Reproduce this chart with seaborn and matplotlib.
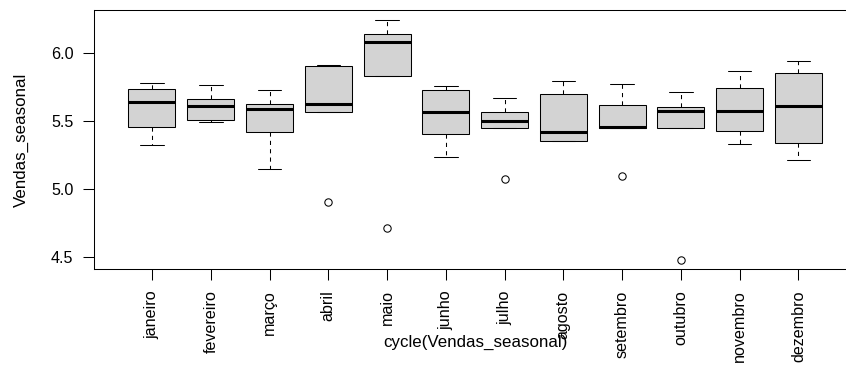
import numpy as np
import pandas as pd
import matplotlib
matplotlib.use("Agg")
import matplotlib.pyplot as plt
import seaborn as sns

months = ["janeiro", "fevereiro", "março", "abril", "maio", "junho",
          "julho", "agosto", "setembro", "outubro", "novembro", "dezembro"]

janeiro = [5.329, 5.40, 5.458, 5.55, 5.642, 5.70, 5.738, 5.76, 5.782]
fevereiro = [5.494, 5.50, 5.509, 5.56, 5.609, 5.64, 5.664, 5.72, 5.764]
marco = [5.150, 5.35, 5.418, 5.50, 5.587, 5.60, 5.624, 5.68, 5.730]
abril = [4.907, 5.565, 5.565, 5.60, 5.629, 5.80, 5.904, 5.91, 5.917]
maio = [4.716, 5.833, 5.833, 5.95, 6.084, 6.12, 6.143, 6.20, 6.248]
junho = [5.234, 5.35, 5.410, 5.50, 5.565, 5.65, 5.733, 5.745, 5.757]
julho = [5.079, 5.452, 5.452, 5.48, 5.502, 5.54, 5.570, 5.62, 5.674]
agosto = [5.357, 5.357, 5.357, 5.39, 5.418, 5.60, 5.698, 5.75, 5.797]
setembro = [5.094, 5.452, 5.452, 5.455, 5.458, 5.55, 5.622, 5.70, 5.777]
outubro = [4.482, 5.452, 5.452, 5.52, 5.573, 5.59, 5.602, 5.66, 5.713]
novembro = [5.335, 5.40, 5.430, 5.50, 5.578, 5.70, 5.742, 5.80, 5.867]
dezembro = [5.214, 5.30, 5.342, 5.50, 5.615, 5.75, 5.853, 5.90, 5.941]

series = [janeiro, fevereiro, marco, abril, maio, junho,
          julho, agosto, setembro, outubro, novembro, dezembro]

yticks = [4.5, 5.0, 5.5, 6.0]
ytick_labels = ["4.5", "5.0", "5.5", "6.0"]

df = pd.DataFrame({
    "cycle": [m for m, vals in zip(months, series) for _ in vals],
    "Vendas_seasonal": [v for vals in series for v in vals],
})

sns.set_style("ticks")
plt.rcParams["font.family"] = ["Liberation Sans", "DejaVu Sans"]

W, H = 846, 365
fig = plt.figure(figsize=(W / 100, H / 100), dpi=100)
ax_left, ax_right, ax_top, ax_bottom = 94.4, 856.0, 10.0, 269.3
ax = fig.add_axes([ax_left / W, 1 - ax_bottom / H,
                   (ax_right - ax_left) / W, (ax_bottom - ax_top) / H])

sns.boxplot(data=df, x="cycle", y="Vendas_seasonal", order=months,
            color="#D3D3D3", saturation=1, width=0.8,
            linecolor="black", linewidth=0.75, whis=1.5,
            whiskerprops=dict(linestyle=(0, (4, 4)), linewidth=0.75),
            capprops=dict(linewidth=0.75),
            medianprops=dict(linewidth=2.2, color="black"),
            flierprops=dict(marker="o", markersize=5.3, markerfacecolor="none",
                            markeredgecolor="black", markeredgewidth=0.75),
            ax=ax)

lo = df["Vendas_seasonal"].min()
hi = df["Vendas_seasonal"].max()
pad = 0.04 * (hi - lo)
ax.set_ylim(lo - pad, hi + pad)
ax.set_xlim(-0.98, len(months) - 1 + 0.98)

ax.set_yticks(yticks)
ax.set_yticklabels(ytick_labels)
ax.set_xticks(range(len(months)))
ax.set_xticklabels(months, rotation=90)

ax.tick_params(axis="both", direction="out", length=7.7, width=0.75,
               color="black", labelcolor="black", labelsize=11.6, pad=7.5)

for s in ax.spines.values():
    s.set_visible(True)
    s.set_color("black")
    s.set_linewidth(0.75)

ax.set_xlabel("cycle(Vendas_seasonal)", fontsize=12.2, color="black")
ax.set_ylabel("Vendas_seasonal", fontsize=12.2, color="black")
ax.xaxis.set_label_coords(0.5, -0.253)
ax.yaxis.set_label_coords(-0.0859, 0.5)
ax.grid(False)
ax.set_facecolor("white")
fig.patch.set_facecolor("white")

fig.savefig("out.png", dpi=100)
